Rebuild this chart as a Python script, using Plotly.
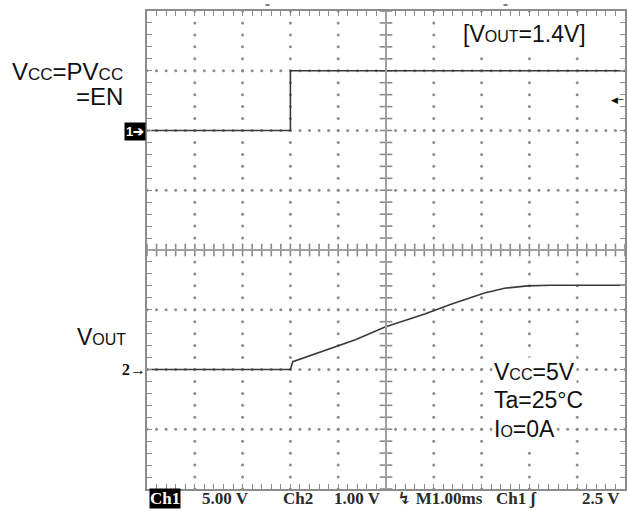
import plotly.graph_objects as go

# Scope settings
time_div_ms = 1.0          # M1.00ms
ch1_volts_div = 5.0        # Ch1 5.00 V
ch2_volts_div = 1.0        # Ch2 1.00 V
n_xdiv, n_ydiv = 10, 8

# Ch1: VCC = PVCC = EN step (volts vs ms)
ch1_time = [0.0, 3.0, 3.0, 10.0]
ch1_volts = [0.0, 0.0, 5.0, 5.0]

# Ch2: VOUT soft-start ramp (volts vs ms)
ch2_time = [0.0, 3.0, 3.05, 3.6, 4.36, 4.98, 5.81, 6.36, 7.06, 7.48, 7.96, 8.44, 10.0]
ch2_volts = [0.0, 0.0, 0.13, 0.28, 0.50, 0.71, 0.93, 1.09, 1.28, 1.36, 1.40, 1.41, 1.41]

# Bottom status bar readouts
status_texts = ["5.00 V", "Ch2", "1.00 V", "↯ M1.00ms", "Ch1 ʃ", "2.5 V"]
status_px = [226, 299, 358, 441, 518, 603]

# Channel ground positions in divisions from screen centre
ch1_ground_div = 2
ch2_ground_div = -2

W, H = 628, 511
L, R, T, B = 147, 1, 11, 22
PW, PH = W - L - R, H - T - B


def px_x(px):
    return (px - L) / PW


def px_y(py):
    return (H - B - py) / PH


x_range = [0, n_xdiv * time_div_ms]
ch2_range = [(-n_ydiv / 2 - ch2_ground_div) * ch2_volts_div,
             (n_ydiv / 2 - ch2_ground_div) * ch2_volts_div]
ch1_range = [(-n_ydiv / 2 - ch1_ground_div) * ch1_volts_div,
             (n_ydiv / 2 - ch1_ground_div) * ch1_volts_div]

fig = go.Figure()

# Dotted graticule: dots every 0.2 division along each major line
gx, gy = [], []
steps = 5
for i in range(1, n_xdiv):
    if i == n_xdiv // 2:
        continue
    for k in range(n_ydiv * steps + 1):
        gx.append(i * time_div_ms)
        gy.append(ch2_range[0] + k * ch2_volts_div / steps)
for j in range(1, n_ydiv):
    if j == n_ydiv // 2:
        continue
    for k in range(n_xdiv * steps + 1):
        gx.append(k * time_div_ms / steps)
        gy.append(ch2_range[0] + j * ch2_volts_div)
fig.add_trace(go.Scatter(x=gx, y=gy, mode="markers",
                         marker=dict(size=3, color="#8e8e8e", line=dict(width=0)),
                         hoverinfo="skip", showlegend=False))

# Centre cross lines with minor ticks
cx = x_range[0] + n_xdiv / 2 * time_div_ms
cy = ch2_range[0] + n_ydiv / 2 * ch2_volts_div
fig.add_shape(type="line", x0=cx, x1=cx, y0=ch2_range[0], y1=ch2_range[1],
              line=dict(color="#a0a0a0", width=2))
fig.add_shape(type="line", x0=x_range[0], x1=x_range[1], y0=cy, y1=cy,
              line=dict(color="#a0a0a0", width=2))
tvy = [ch2_range[0] + k * ch2_volts_div / steps for k in range(n_ydiv * steps + 1)]
fig.add_trace(go.Scatter(x=[cx] * len(tvy), y=tvy, mode="markers",
                         marker=dict(symbol="line-ew", size=9,
                                     line=dict(color="#8a8a8a", width=1.6)),
                         hoverinfo="skip", showlegend=False))
thx = [k * time_div_ms / steps for k in range(n_xdiv * steps + 1)]
fig.add_trace(go.Scatter(x=thx, y=[cy] * len(thx), mode="markers",
                         marker=dict(symbol="line-ns", size=9,
                                     line=dict(color="#8a8a8a", width=1.6)),
                         hoverinfo="skip", showlegend=False))

# Waveforms
fig.add_trace(go.Scatter(x=ch1_time, y=ch1_volts, yaxis="y2", mode="lines",
                         line=dict(color="#3a3a3a", width=1.6),
                         showlegend=False))
fig.add_trace(go.Scatter(x=ch2_time, y=ch2_volts, mode="lines",
                         line=dict(color="#3a3a3a", width=1.6),
                         showlegend=False))

axis_common = dict(showgrid=False, zeroline=False, showline=True,
                   linecolor="#8c8c8c", linewidth=1.5, mirror="ticks",
                   ticks="inside", ticklen=5, tickcolor="#8c8c8c",
                   tickwidth=1.2, showticklabels=False)

fig.update_layout(
    width=W, height=H,
    margin=dict(l=L, r=R, t=T, b=B),
    paper_bgcolor="white", plot_bgcolor="white",
    xaxis=dict(range=x_range, dtick=time_div_ms / steps, tick0=0, **axis_common),
    yaxis=dict(range=ch2_range, dtick=ch2_volts_div / steps, tick0=0, **axis_common),
    yaxis2=dict(range=ch1_range, overlaying="y", visible=False),
)

sans = "Arial, Liberation Sans, sans-serif"
serif = "Liberation Serif, DejaVu Serif, serif"


def small(s, size):
    return f"<span style='font-size:{size}px'>{s}</span>"


annots = [
    dict(text="V" + small("CC", 17) + "=PV" + small("CC", 17), px=125, py=71,
         xanchor="right", size=24),
    dict(text="=EN", px=125, py=96, xanchor="right", size=24),
    dict(text="V" + small("OUT", 16), px=128, py=337, xanchor="right", size=23),
    dict(text="[V" + small("OUT", 16) + "=1.4V]", px=462, py=34, xanchor="left",
         size=23, bg="white"),
    dict(text="V" + small("CC", 16) + "=5V", px=493, py=372, xanchor="left",
         size=23, bg="white"),
    dict(text="Ta=25°C", px=493, py=400, xanchor="left", size=23, bg="white"),
    dict(text="I" + small("O", 16) + "=0A", px=493, py=429, xanchor="left",
         size=23, bg="white"),
]
for a in annots:
    fig.add_annotation(text=a["text"], xref="paper", yref="paper",
                       x=px_x(a["px"]), y=px_y(a["py"]),
                       xanchor=a["xanchor"], yanchor="middle", showarrow=False,
                       font=dict(family=sans, size=a["size"], color="#111"),
                       bgcolor=a.get("bg"), borderpad=1)

# Channel markers and trigger level arrow
fig.add_annotation(text="<b>1➔</b>", xref="paper", yref="paper",
                   x=px_x(146), y=px_y(131), xanchor="right", yanchor="middle",
                   showarrow=False, bgcolor="black", borderpad=1,
                   font=dict(family=sans, size=13, color="white"))
fig.add_annotation(text="<b>2→</b>", xref="paper", yref="paper",
                   x=px_x(148), y=px_y(369), xanchor="right", yanchor="middle",
                   showarrow=False, font=dict(family=serif, size=16, color="#111"))
fig.add_annotation(text="<b>◀─</b>", xref="paper", yref="paper",
                   x=px_x(628), y=px_y(100), xanchor="right", yanchor="middle",
                   showarrow=False, font=dict(family="DejaVu Sans", size=9, color="#111"))

# Small marks above the screen
for mx in (268, 507):
    fig.add_shape(type="line", xref="paper", yref="paper",
                  x0=px_x(mx - 2), x1=px_x(mx + 2), y0=px_y(5), y1=px_y(5),
                  line=dict(color="#555", width=1.5))

# Status bar
fig.add_annotation(text="<b>Ch1</b>", xref="paper", yref="paper",
                   x=px_x(165.5), y=px_y(498), xanchor="center", yanchor="middle",
                   showarrow=False, bgcolor="black", borderpad=0,
                   font=dict(family=serif, size=17, color="white"))
for t, p in zip(status_texts, status_px):
    fig.add_annotation(text="<b>" + t + "</b>", xref="paper", yref="paper",
                       x=px_x(p), y=px_y(498), xanchor="center", yanchor="middle",
                       showarrow=False,
                       font=dict(family=serif, size=17, color="#2a2a2a"))

fig.write_html("out.html")
